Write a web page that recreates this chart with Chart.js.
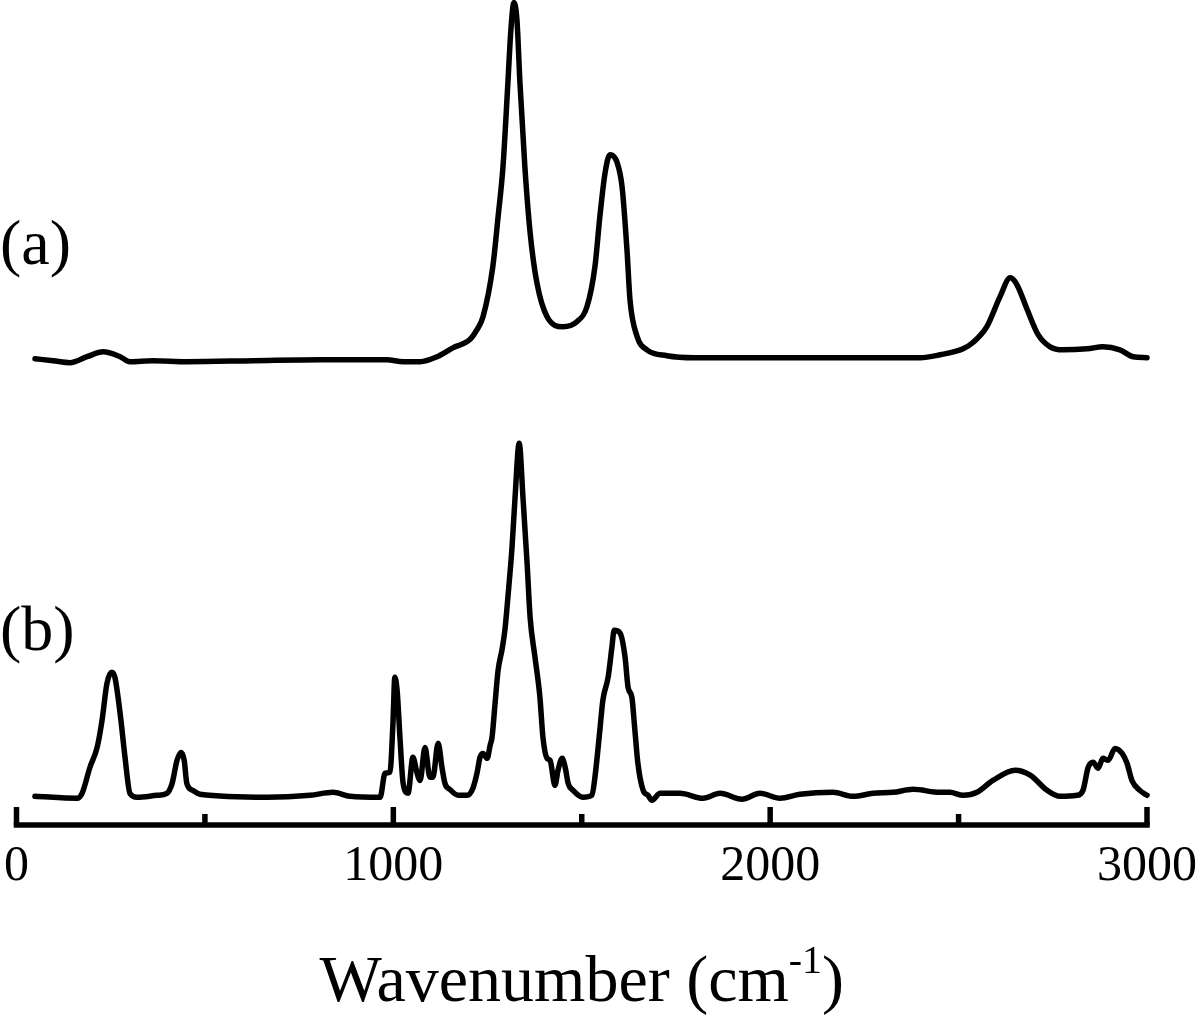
<!DOCTYPE html>
<html>
<head>
<meta charset="utf-8">
<title>Raman spectra</title>
<script src="https://cdn.jsdelivr.net/npm/chart.js@4.4.1/dist/chart.umd.min.js"></script>
<style>
    html, body { margin: 0; padding: 0; background: #ffffff; }
    #spectraChart { display: block; }
</style>
</head>
<body>
<canvas id="spectraChart" width="1200" height="1015"></canvas>
<script>
// spectrum (a): wavenumber (cm-1) and intensity (a.u.)
const wavenumberA = [49, 97, 142, 187, 230, 275, 301, 362, 452, 628, 805, 983, 1026, 1071, 1116, 1158, 1203, 1222, 1238, 1264,
    1278, 1291, 1304, 1312, 1320, 1328, 1336, 1349, 1363, 1381, 1408, 1450, 1487, 1514, 1535, 1548, 1562, 1575, 1594, 1607,
    1620, 1628, 1647, 1673, 1726, 1800, 2000, 2200, 2398, 2451, 2512, 2538, 2575, 2610, 2637, 2655, 2682, 2711, 2743, 2777,
    2841, 2883, 2928, 2963, 3000];
const intensityA = [0.3, -0.3, -0.9, 0.9, 2.4, 0.9, -0.6, -0.3, -0.6, -0.3, 0, 0, -0.6, -0.6, 0.9, 3.6, 6.1, 9.1, 13.0, 28.2,
    43.3, 58.5, 83.9, 100, 108.2, 103, 83.9, 58.5, 38.5, 23.3, 13.0, 10.0, 11.5, 16.1, 28.2, 43.3, 56.7, 62.1, 59.7, 52.4,
    33.3, 18.2, 7.0, 3.0, 1.2, 0.6, 0.6, 0.6, 0.6, 1.5, 3.3, 5.2, 10.0, 19.1, 24.8, 22.7, 15.2, 7.6, 3.9, 3.0,
    3.3, 3.9, 3.0, 0.9, 0.6];

// spectrum (b)
const wavenumberB = [49, 161, 174, 195, 214, 227, 240, 253, 261, 275, 288, 301, 320, 373, 399, 413, 426, 437, 445, 452,
    468, 487, 665, 779, 840, 885, 965, 978, 991, 999, 1004, 1010, 1018, 1026, 1039, 1052, 1063, 1071, 1084, 1097,
    1105, 1119, 1129, 1137, 1150, 1172, 1196, 1211, 1222, 1230, 1238, 1249, 1257, 1262, 1270, 1278, 1288, 1296, 1304, 1315,
    1323, 1334, 1344, 1355, 1363, 1376, 1389, 1397, 1408, 1416, 1429, 1437, 1448, 1456, 1464, 1477, 1503, 1527, 1535, 1548,
    1556, 1570, 1580, 1586, 1602, 1615, 1623, 1633, 1641, 1649, 1663, 1676, 1686, 1708, 1761, 1822, 1867, 1925, 1973, 2026,
    2079, 2167, 2220, 2273, 2326, 2379, 2451, 2477, 2512, 2549, 2591, 2650, 2690, 2735, 2769, 2814, 2830, 2844, 2857, 2870,
    2883, 2897, 2915, 2934, 2947, 2960, 2981, 3000];
const intensityB = [-0.3, -0.9, 0.6, 8.5, 14.5, 22.7, 33.9, 37.3, 35.8, 24.8, 11.5, 0.6, -0.6, 0, 0.6, 3.6, 10.6, 13.0, 10.6, 3.6,
    1.5, 0.3, -0.6, 0, 0.9, -0.3, -0.6, 6.7, 7.0, 21.8, 35.8, 31.8, 16.7, 3.6, 0.6, 11.5, 6.7, 4.5, 14.5, 5.5,
    5.5, 15.8, 8.5, 3.6, 1.8, 0, 0, 2.1, 6.7, 11.5, 12.7, 11.2, 15.2, 17.6, 27.9, 37.9, 43.9, 50.0, 60.0, 75.2,
    90.3, 106.7, 90.3, 70.3, 53.9, 41.8, 29.7, 17.6, 11.2, 10.6, 3.0, 7.6, 11.2, 8.5, 3.6, 1.5, -0.6, 0, 5.5, 19.7,
    28.8, 35.8, 44.8, 50.0, 49.1, 41.8, 32.7, 29.7, 19.7, 9.7, 1.5, 0, -1.5, 0.6, 0.6, -0.9, 0.6, -1.2, 0.6, -0.9,
    0.3, 0.9, -0.3, 0.6, 0.9, 1.8, 0.9, 0.9, 0, 0.9, 4.5, 7.6, 6.1, 1.5, -0.3, 0, 1.5, 8.5, 10.0, 8.2,
    11.2, 10.6, 14.2, 12.7, 9.7, 4.5, 1.5, 0];

// vertical offsets used to stack the two spectra
const offsetA = 141;
const offsetB = 9;

// axis ticks, labels only on the major ones
const tickValues = [0, 500, 1000, 1500, 2000, 2500, 3000];
const tickLabels = ['0', '', '1000', '', '2000', '', '3000'];

const seriesNames = ['(a)', '(b)'];

const serif = '"Liberation Serif", "Times New Roman", serif';

function toPoints(xs, ys, offset) {
    return xs.map((x, i) => ({ x: x, y: ys[i] + offset }));
}

// draws the bottom axis with inward ticks, the axis title and the (a)/(b) labels
const spectraAxisPlugin = {
    id: 'spectraAxis',
    afterDraw(chart) {
        const ctx = chart.ctx;
        const xScale = chart.scales.x;
        const yScale = chart.scales.y;
        const axisY = yScale.getPixelForValue(0);
        const x0 = xScale.getPixelForValue(tickValues[0]);
        const x1 = xScale.getPixelForValue(tickValues[tickValues.length - 1]);

        ctx.save();
        ctx.strokeStyle = '#000';
        ctx.fillStyle = '#000';
        ctx.lineWidth = 5.5;

        ctx.beginPath();
        ctx.moveTo(x0 - 2.75, axisY);
        ctx.lineTo(x1 + 2.75, axisY);
        ctx.stroke();

        ctx.font = '50px ' + serif;
        ctx.textAlign = 'center';
        ctx.textBaseline = 'alphabetic';
        for (let i = 0; i < tickValues.length; i++) {
            const x = xScale.getPixelForValue(tickValues[i]);
            const major = tickLabels[i] !== '';
            ctx.beginPath();
            ctx.moveTo(x, axisY);
            ctx.lineTo(x, axisY - (major ? 18 : 11));
            ctx.stroke();
            if (major) {
                ctx.fillText(tickLabels[i], x, axisY + 55);
            }
        }

        // axis title, with the superscript drawn by hand
        const size = 66;
        const mainText = 'Wavenumber (cm';
        const supText = '-1';
        const endText = ')';
        ctx.font = size + 'px ' + serif;
        const wMain = ctx.measureText(mainText).width;
        const wEnd = ctx.measureText(endText).width;
        ctx.font = Math.round(size * 0.6) + 'px ' + serif;
        const wSup = ctx.measureText(supText).width;
        const total = wMain + wSup + wEnd;
        let tx = (x0 + x1) / 2 - total / 2;
        const ty = axisY + 176;
        ctx.textAlign = 'left';
        ctx.font = size + 'px ' + serif;
        ctx.fillText(mainText, tx, ty);
        tx += wMain;
        ctx.font = Math.round(size * 0.6) + 'px ' + serif;
        ctx.fillText(supText, tx, ty - size * 0.42);
        tx += wSup;
        ctx.font = size + 'px ' + serif;
        ctx.fillText(endText, tx, ty);

        // series labels sit to the left, above each baseline
        ctx.font = '64px ' + serif;
        ctx.fillText(seriesNames[0], 0, yScale.getPixelForValue(offsetA + 29));
        ctx.fillText(seriesNames[1], 0, yScale.getPixelForValue(offsetB + 44));
        ctx.restore();
    }
};

document.addEventListener("DOMContentLoaded", function () {
    const ctx = document.getElementById('spectraChart').getContext('2d');

    const lineStyle = {
        borderColor: '#000',
        borderWidth: 5.5,
        pointRadius: 0,
        cubicInterpolationMode: 'monotone',
        borderJoinStyle: 'round',
        borderCapStyle: 'round',
        clip: false
    };

    const spectraChart = new Chart(ctx, {
        type: 'line',
        data: {
            datasets: [
                Object.assign({ label: seriesNames[0], data: toPoints(wavenumberA, intensityA, offsetA) }, lineStyle),
                Object.assign({ label: seriesNames[1], data: toPoints(wavenumberB, intensityB, offsetB) }, lineStyle)
            ]
        },
        options: {
            responsive: false,
            animation: false,
            devicePixelRatio: 1,
            layout: {
                padding: { left: 16.5, right: 53, top: 0, bottom: 190 }
            },
            plugins: {
                legend: { display: false },
                tooltip: { enabled: false }
            },
            scales: {
                x: { type: 'linear', min: 0, max: 3000, display: false },
                y: { type: 'linear', min: 0, max: 250, display: false }
            }
        },
        plugins: [spectraAxisPlugin]
    });
});
</script>
</body>
</html>
